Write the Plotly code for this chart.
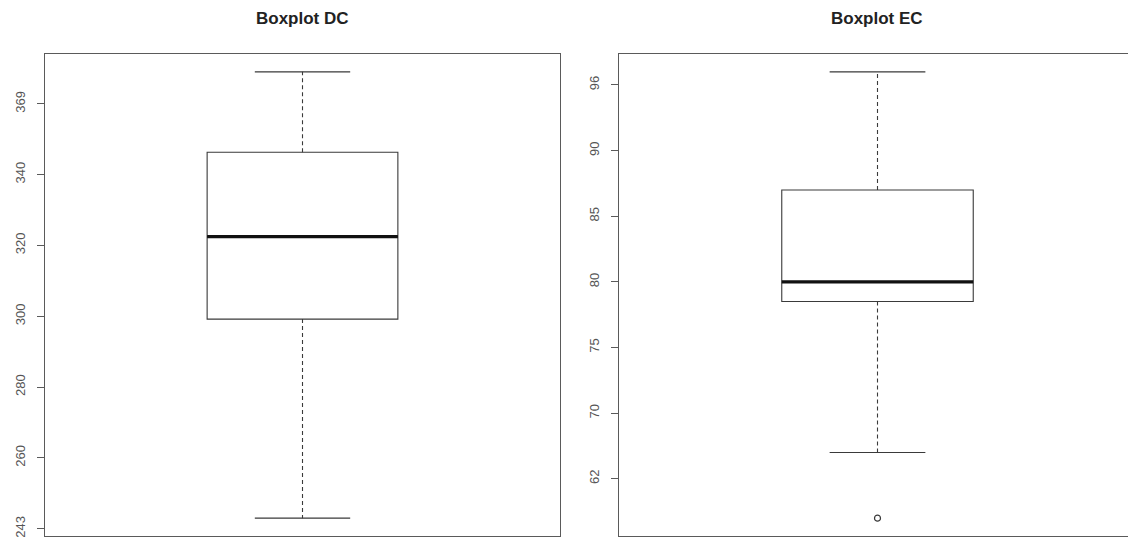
import plotly.graph_objects as go
from plotly.subplots import make_subplots

# ---- data ----
panel_titles = ["Boxplot DC", "Boxplot EC"]
categories = ["DC", "EC"]

dc_lower_whisker = 243
dc_q1 = 299.2
dc_median = 322.5
dc_q3 = 346.3
dc_upper_whisker = 369
dc_outliers = []

ec_lower_whisker = 67.0
ec_q1 = 78.5
ec_median = 80.0
ec_q3 = 87.0
ec_upper_whisker = 96
ec_outliers = [62]

dc_tick_vals = [240, 260, 280, 300, 320, 340, 360]
dc_tick_text = ["243", "260", "280", "300", "320", "340", "369"]
ec_tick_vals = [65, 70, 75, 80, 85, 90, 95]
ec_tick_text = ["62", "70", "75", "80", "85", "90", "96"]

dc_range = [237.96, 374.04]
ec_range = [60.64, 97.36]

# ---- style ----
BOX_W = 0.4
CAP_W = 0.2
LINE_C = "#3a3a3a"
FONT = "Liberation Sans, Arial, sans-serif"

fig = make_subplots(rows=1, cols=2, horizontal_spacing=0.0)


def add_panel(col, cat, lo, q1, med, q3, hi, outliers):
    # box body (no whiskers)
    fig.add_trace(go.Box(x=[cat], q1=[q1], median=[med], q3=[q3],
                         lowerfence=[q1], upperfence=[q3], width=BOX_W,
                         fillcolor="rgba(0,0,0,0)",
                         line=dict(color=LINE_C, width=1.1),
                         boxpoints=False, showlegend=False, hoverinfo="skip"),
                  row=1, col=col)
    # dashed whiskers
    fig.add_trace(go.Scatter(x=[cat, cat, None, cat, cat],
                             y=[q3, hi, None, q1, lo], mode="lines",
                             line=dict(color=LINE_C, width=1.1, dash="4px,3px"),
                             showlegend=False, hoverinfo="skip"),
                  row=1, col=col)
    # staples (caps)
    for v in (hi, lo):
        fig.add_trace(go.Box(x=[cat], q1=[v], median=[v], q3=[v],
                             lowerfence=[v], upperfence=[v], width=CAP_W,
                             fillcolor="rgba(0,0,0,0)",
                             line=dict(color=LINE_C, width=1.1),
                             boxpoints=False, showlegend=False, hoverinfo="skip"),
                      row=1, col=col)
    # thick median
    fig.add_trace(go.Box(x=[cat], q1=[med], median=[med], q3=[med],
                         lowerfence=[med], upperfence=[med], width=BOX_W,
                         fillcolor="rgba(0,0,0,0)",
                         line=dict(color="#111111", width=3.2),
                         boxpoints=False, showlegend=False, hoverinfo="skip"),
                  row=1, col=col)
    if outliers:
        fig.add_trace(go.Scatter(x=[cat] * len(outliers), y=outliers, mode="markers",
                                 marker=dict(symbol="circle-open", size=6,
                                             color=LINE_C, line=dict(width=1.2)),
                                 showlegend=False, hoverinfo="skip"),
                      row=1, col=col)


add_panel(1, categories[0], dc_lower_whisker, dc_q1, dc_median, dc_q3,
          dc_upper_whisker, dc_outliers)
add_panel(2, categories[1], ec_lower_whisker, ec_q1, ec_median, ec_q3,
          ec_upper_whisker, ec_outliers)

# page body has an 8px margin: compensate so the frame lands where the reference has it
OFF = 8
W, H = 1136 - OFF, 541 - OFF
L, R = 45 - OFF, 0
T = 54 - OFF
B = H - (536.5 - OFF)
plot_w = W - L - R
d1 = [0, (560 - OFF - L) / plot_w]
d2 = [(619 - OFF - L) / plot_w, 1.0]

axis_common = dict(showgrid=False, zeroline=False, showline=True, mirror=True,
                   linecolor="#5a5a5a", linewidth=1.3)
fig.update_xaxes(**axis_common, showticklabels=False, ticks="",
                 type="category", range=[-0.54, 0.54])
fig.update_xaxes(domain=d1, row=1, col=1)
fig.update_xaxes(domain=d2, row=1, col=2)

yax_common = dict(ticks="outside", ticklen=7, tickwidth=1, tickcolor="#5a5a5a",
                  tickangle=-90, tickfont=dict(family=FONT, size=13, color="#555555"),
                  ticklabelstandoff=7, automargin=False)
fig.update_yaxes(**axis_common, **yax_common)
fig.update_yaxes(range=dc_range, tickmode="array", tickvals=dc_tick_vals,
                 ticktext=dc_tick_text, row=1, col=1)
fig.update_yaxes(range=ec_range, tickmode="array", tickvals=ec_tick_vals,
                 ticktext=ec_tick_text, row=1, col=2)

annotations = []
for title, dom in zip(panel_titles, (d1, d2)):
    annotations.append(dict(text="<b>" + title + "</b>", xref="paper", yref="paper",
                            x=(dom[0] + dom[1]) / 2, y=1.0, yshift=36,
                            xanchor="center", yanchor="middle", showarrow=False,
                            font=dict(family=FONT, size=17, color="#222222")))

fig.update_layout(width=W, height=H, margin=dict(l=L, r=R, t=T, b=B, autoexpand=False),
                  plot_bgcolor="white", paper_bgcolor="white",
                  boxmode="overlay", annotations=annotations, showlegend=False)

fig.write_html("out.html")
